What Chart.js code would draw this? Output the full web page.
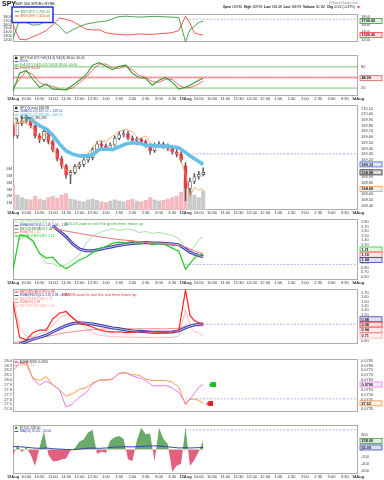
<!DOCTYPE html>
<html lang="en">
<head>
<meta charset="UTF-8">
<meta name="viewport" content="width=device-width, initial-scale=1.0">
<title>SPY intraday breadth</title>
<script src="https://cdn.jsdelivr.net/npm/chart.js"></script>
<style>
  body { margin: 0; background: #fff; }
  #wrap { position: relative; width: 384px; height: 480px; overflow: hidden; background: #fff; }
  #wrap canvas { position: absolute; left: 0; }
</style>
</head>
<body>
<div id="wrap">
  <canvas id="p1" width="384" height="40" style="top:9px"></canvas>
  <canvas id="p2" width="384" height="53" style="top:50px"></canvas>
  <canvas id="p3" width="384" height="117" style="top:100px"></canvas>
  <canvas id="p4" width="384" height="73" style="top:214px"></canvas>
  <canvas id="p5" width="384" height="67" style="top:284px"></canvas>
  <canvas id="p6" width="384" height="65" style="top:354px"></canvas>
  <canvas id="p7" width="384" height="61" style="top:420px"></canvas>
  <canvas id="hdr" width="384" height="24" style="top:0px"></canvas>
</div>

<script>
// minutes after the 9:30 open of 12 Aug; 13 Aug opens at 390
const xTickTimes = [0,30,60,90,120,150,180,210,240,270,300,330,360,390,420,450,480,510,540,570,600,630,660,690,720,750,780];
const xTickLabels = ['12Aug','10:00','10:30','11:00','11:30','12:00','12:30','1:00','1:30','2:00','2:30','3:00','3:30','13Aug','10:00','10:30','11:00','11:30','12:00','12:30','1:00','1:30','2:00','2:30','3:00','3:30','14Aug'];
const lineTimes = [0,15,30,45,60,75,90,105,120,135,150,165,180,195,210,225,240,255,270,285,300,315,330,345,360,375,390,400,410,420,430];
const barTimes = [0,10,20,30,40,50,60,70,80,90,100,110,120,130,140,150,160,170,180,190,200,210,220,230,240,250,260,270,280,290,300,310,320,330,340,350,360,370,380,390,400,410,420,430];
const fullSpan = [0, 780];
const day2Span = [390, 780];

// panel 1 - up / down volume
const nyUpVol = [1225,1740,1660,1590,1600,1720,1690,1560,1360,1460,1550,1615,1650,1680,1700,1755,1820,1830,1820,1805,1815,1825,1825,1815,1805,1790,1140,1460,1560,1660,1700];
const nyDnVol = [1600,1205,1190,1270,1350,1440,1600,1780,1745,1690,1585,1480,1455,1465,1380,1350,1337,1320,1325,1350,1340,1335,1355,1365,1385,1440,1830,1640,1380,1340,1320];
const p1Prior = 1749;
const p1LeftTicks = [1200,1300,1400,1500,1600,1700,1800];
const p1RightTicks = [1200,1400,1600,1800];

// panel 2 - stochastics
const stochK = [12,62,70,45,22,32,17,16,15,28,42,57,85,92,82,72,82,85,62,50,47,28,42,50,37,17,22,28,35,42,48];
const stochD = [20,45,68,58,35,28,25,17,16,20,35,50,72,88,88,77,76,82,72,56,50,38,36,45,45,28,20,22,26,32,40];
const stochUpper = 80, stochMid = 50, stochLower = 20;
const stochTicks = [20, 80];

// panel 3 - SPY 10 min candles, volume, overlays
const opens = [169.80,169.62,169.84,169.88,169.90,169.80,169.62,169.56,169.70,169.52,169.38,169.22,169.10,168.93,168.98,169.08,169.12,169.20,169.24,169.38,169.48,169.44,169.40,169.46,169.58,169.64,169.66,169.58,169.54,169.56,169.52,169.46,169.36,169.46,169.48,169.44,169.40,169.34,169.30,169.10,168.70,168.82,168.90,168.94];
const highs = [169.84,169.92,169.97,169.98,169.95,169.82,169.66,169.78,169.74,169.55,169.40,169.26,169.12,169.02,169.12,169.16,169.24,169.30,169.42,169.52,169.53,169.48,169.50,169.62,169.70,169.72,169.70,169.62,169.60,169.58,169.55,169.48,169.50,169.52,169.51,169.48,169.44,169.38,169.34,169.15,168.88,168.96,169.00,169.06];
const lows = [169.58,169.58,169.80,169.85,169.76,169.58,169.50,169.52,169.48,169.34,169.18,169.05,168.88,168.78,168.95,169.04,169.08,169.16,169.20,169.35,169.40,169.36,169.38,169.44,169.55,169.60,169.55,169.50,169.46,169.47,169.42,169.30,169.33,169.42,169.40,169.36,169.30,169.25,169.16,168.48,168.60,168.78,168.86,168.92];
const closes = [169.62,169.84,169.88,169.90,169.80,169.62,169.56,169.70,169.52,169.38,169.22,169.10,168.93,168.98,169.08,169.12,169.20,169.24,169.38,169.48,169.44,169.40,169.46,169.58,169.64,169.66,169.58,169.54,169.56,169.52,169.46,169.36,169.46,169.48,169.44,169.40,169.34,169.30,169.20,168.70,168.82,168.90,168.94,168.98];
const volumes = [3.6,2.2,1.8,1.6,1.5,2.0,1.6,1.4,1.8,2.0,1.7,2.2,2.4,1.6,1.5,1.3,1.2,1.5,1.6,1.4,1.2,1.1,1.3,1.5,1.3,1.2,1.4,1.6,1.3,1.2,1.4,1.8,1.5,1.3,1.4,1.6,1.8,2.0,2.6,4.4,3.0,2.2,1.8,2.8];
const priceSma = [null,null,169.95,169.88,169.80,169.74,169.63,169.48,169.355,169.30,169.27,169.27,169.29,169.38,169.39,169.38,169.43,169.48,169.50,169.49,169.46,169.45,169.44,169.44,169.43,169.41,169.33,169.27,169.22,169.17,169.12];
const vixOverlay = [169.805,169.855,169.84,169.755,169.555,169.69,169.39,169.205,169.005,169.02,169.14,169.255,169.42,169.54,169.52,169.62,169.69,169.74,169.69,169.57,169.62,169.455,169.47,169.405,169.355,169.29,168.955,168.555,168.72,168.67,168.69];
const p3Prior = 169.305;
const priceTicks = [168.4,168.5,168.6,168.7,168.8,168.9,169.0,169.1,169.2,169.3,169.4,169.5,169.6,169.7,169.8,169.9,170.0,170.1];
const volTicks = [1,2,3,4,5,6];

// panel 4 - bull ratios
const upDnRatio = [1.61,1.41,1.49,1.33,1.13,0.89,0.89,0.83,0.87,0.97,1.09,1.33,1.49,1.57,1.61,1.65,1.61,1.65,1.63,1.57,1.59,1.55,1.57,1.53,1.51,1.43,1.23,1.13,1.27,1.41,1.47];
const advDecRatio = [0.75,1.51,1.49,1.39,1.11,1.01,1.03,0.87,0.78,0.87,0.97,1.03,1.13,1.22,1.26,1.33,1.36,1.34,1.39,1.31,1.36,1.30,1.33,1.30,1.23,1.16,0.77,0.89,1.01,1.08,1.11];
const bullEmaBand = [null,null,null,null,null,null,1.71,1.60,1.48,1.32,1.21,1.17,1.17,1.20,1.23,1.26,1.29,1.31,1.33,1.34,1.35,1.34,1.34,1.33,1.32,1.30,1.21,1.14,1.10,1.07,1.04];
const bullEma50 = [null,null,null,null,null,null,1.67,1.635,1.60,1.575,1.548,1.523,1.50,1.477,1.455,1.433,1.415,1.40,1.385,1.37,1.355,1.343,1.33,1.318,1.305,1.283,1.25,1.21,1.17,1.135,1.10];
const p4Prior = 0.874;
const ratio4Ticks = [0.6,0.7,0.8,0.9,1.0,1.1,1.2,1.3,1.4,1.5,1.6,1.7,1.8];

// panel 5 - bear ratios
const dnUpRatio = [1.48,0.67,0.61,0.78,0.84,0.84,1.10,1.23,1.27,1.12,1.00,0.96,0.91,0.84,0.81,0.79,0.80,0.78,0.79,0.80,0.81,0.80,0.79,0.79,0.80,0.84,1.77,1.18,1.06,1.01,0.98];
const decAdvRatio = [1.60,0.90,0.70,0.68,0.76,0.80,0.95,1.12,1.20,1.15,1.00,0.88,0.78,0.72,0.70,0.69,0.68,0.68,0.675,0.67,0.67,0.665,0.66,0.665,0.67,0.70,1.30,0.95,0.80,0.78,0.71];
const bearEma50 = [0.55,0.57,0.60,0.63,0.66,0.69,0.72,0.75,0.78,0.80,0.82,0.84,0.85,0.86,0.865,0.87,0.87,0.87,0.87,0.87,0.87,0.87,0.87,0.87,0.875,0.88,0.93,0.93,0.935,0.94,0.94];
const bearEmaBand = [null,0.517,0.57,0.63,0.67,0.72,0.80,0.875,0.94,0.99,1.01,1.00,0.98,0.95,0.92,0.89,0.87,0.84,0.82,0.81,0.80,0.79,0.79,0.79,0.795,0.82,0.89,0.93,0.96,0.975,0.98];
const p5Prior = 0.975;
const ratio5Ticks = [0.6,0.7,0.8,0.9,1.0,1.1,1.2,1.3,1.4,1.5,1.6,1.7];

// panel 6 - $ONE:$VIX and VIX
const oneOverVix = [0.07746,0.07825,0.07838,0.07663,0.07596,0.07638,0.07600,0.07550,0.07371,0.07404,0.07475,0.07517,0.07608,0.07650,0.07652,0.07660,0.07721,0.07725,0.07692,0.07673,0.07646,0.07592,0.07590,0.07594,0.07567,0.07521,0.07413,0.07454,0.07513,0.07575,0.07604];
const vixClose = [28.375,28.367,28.325,28.04,27.99,28.075,27.90,27.80,27.67,27.72,27.81,27.84,27.94,28.00,27.995,28.02,28.14,28.15,28.11,28.10,28.02,27.99,27.99,27.99,27.96,27.85,27.49,27.60,27.61,27.575,27.52];
const alertUpTimes = [450], alertUpValues = [27.90];
const alertDownTimes = [445], alertDownValues = [27.51];
const p6Prior = 27.613;
const vixTicks = [27.4,27.5,27.6,27.7,27.8,27.9,28.0,28.1,28.2,28.3,28.4];
const oneVixTicks = [0.0735,0.0740,0.0745,0.0750,0.0755,0.0760,0.0765,0.0770,0.0775,0.0780,0.0785];

// panel 7 - $TICK
const tickValues = [-160,120,-80,70,-150,-460,60,500,-150,-330,-320,-280,-250,-30,40,215,280,480,540,-130,-60,-100,250,340,370,300,-270,-320,250,600,420,440,-330,600,300,150,-620,-450,-400,620,-450,-300,-60,238];
const tickMa = [80,75,60,40,30,40,20,10,0,-10,10,30,40,30,40,60,70,75,70,80,90,100,95,80,60,40,50,40,45,50,55];
const p7Prior = 542;
const tickTicks = [-600,-400,-200,0,200,400];

const FONT = '"Liberation Sans", Arial, sans-serif';
Chart.defaults.font.family = FONT;
Chart.defaults.font.size = 4;
Chart.defaults.color = '#444';
Chart.defaults.animation = false;
Chart.defaults.events = [];
Chart.defaults.plugins.legend.display = false;
Chart.defaults.plugins.tooltip.enabled = false;
Chart.defaults.elements.point.radius = 0;
Chart.defaults.elements.line.tension = 0;

const pts = (times, vals) => times.map((t, i) => ({ x: t, y: vals[i] }));
const flat = (span, v) => span.map(t => ({ x: t, y: v }));

function line(times, vals, color, width, more) {
    return Object.assign({ type: 'line', data: pts(times, vals), borderColor: color, borderWidth: width, fill: false, yAxisID: 'y' }, more || {});
}
function level(span, v, color, width, dash, more) {
    return Object.assign({ type: 'line', data: flat(span, v), borderColor: color, borderWidth: width, borderDash: dash, fill: false, yAxisID: 'y', order: 90 }, more || {});
}

function xScale(show) {
    return {
        type: 'linear', min: 0, max: 780, offset: false, display: show,
        grid: { display: false, drawTicks: false }, border: { display: false },
        afterBuildTicks: s => { s.ticks = xTickTimes.map(v => ({ value: v })); },
        afterFit: s => { s.height = 7; },
        ticks: {
            autoSkip: false, maxRotation: 0, minRotation: 0, padding: 0.5, color: '#333',
            callback: (v, i) => xTickLabels[i],
            font: ctx => ({ size: 4, weight: /Aug/.test(xTickLabels[ctx.index]) ? 'bold' : 'normal' })
        }
    };
}
function yScale(pos, min, max, tickList, fmt) {
    return {
        type: 'linear', position: pos, min: min, max: max,
        grid: { display: false, drawTicks: false }, border: { display: false },
        afterBuildTicks: s => { s.ticks = tickList.map(v => ({ value: v })); },
        afterFit: s => { s.width = pos === 'right' ? 26 : 13; },
        ticks: { autoSkip: false, padding: pos === 'right' ? 3 : 1, callback: fmt, font: { size: 4 }, color: '#444' }
    };
}

const framePlugin = {
    id: 'frame',
    beforeDatasetsDraw(chart) {
        const { ctx, chartArea: a } = chart;
        ctx.save();
        ctx.strokeStyle = '#ababab';
        ctx.lineWidth = 1;
        ctx.strokeRect(Math.round(a.left) + 0.5, Math.round(a.top) + 0.5, Math.round(a.width) - 1, Math.round(a.height) - 1);
        ctx.restore();
    }
};

const legendPlugin = {
    id: 'panelLegend',
    afterDatasetsDraw(chart, args, o) {
        const { ctx, chartArea: a } = chart;
        ctx.save();
        ctx.textBaseline = 'middle';
        (o.lines || []).forEach((ln, i) => {
            const x = a.left + 2, y = a.top + 2.6 + i * 3.5;
            ctx.font = '3.3px ' + FONT;
            if (ln.box) {
                ctx.fillStyle = ln.color;
                ctx.fillRect(x, y - 1.2, 2.4, 2.4);
            } else {
                ctx.strokeStyle = ln.color;
                ctx.lineWidth = 0.9;
                ctx.beginPath(); ctx.moveTo(x - 0.5, y); ctx.lineTo(x + 3.5, y); ctx.stroke();
            }
            ctx.fillStyle = ln.textColor || ln.color;
            ctx.fillText(ln.text, x + 5, y);
        });
        if (o.note) {
            ctx.font = '4px ' + FONT;
            ctx.fillStyle = o.note.color;
            ctx.fillText(o.note.text, a.left + o.note.dx, a.top + o.note.dy);
        }
        ctx.restore();
    }
};

const tagPlugin = {
    id: 'tags',
    afterDraw(chart) {
        const { ctx, chartArea: a } = chart;
        const tags = [];
        chart.data.datasets.forEach(ds => {
            if (ds.tagDigits === undefined) return;
            const last = ds.data.slice().reverse().find(p => p.y !== null);
            const v = Array.isArray(last.y) ? last.y[1] : last.y;
            const y = chart.scales[ds.yAxisID].getPixelForValue(v);
            tags.push({ y: y, text: v.toFixed(ds.tagDigits), color: ds.tagColor || ds.borderColor });
        });
        tags.sort((p, q) => p.y - q.y);
        const h = 5.3;
        for (let n = 0; n < 40; n++) {
            for (let k = 0; k < tags.length - 1; k++) {
                const d = h - (tags[k + 1].y - tags[k].y);
                if (d > 0) { tags[k].y -= d / 2; tags[k + 1].y += d / 2; }
            }
        }
        ctx.save();
        ctx.font = 'bold 3.8px ' + FONT;
        ctx.textBaseline = 'middle';
        tags.forEach(t => {
            const x = a.right + 2, w = 22;
            ctx.fillStyle = '#fff';
            ctx.fillRect(x, t.y - 2.5, w, 5);
            ctx.globalAlpha = 0.16;
            ctx.fillStyle = t.color;
            ctx.fillRect(x, t.y - 2.5, w, 5);
            ctx.globalAlpha = 1;
            ctx.strokeStyle = t.color;
            ctx.lineWidth = 0.8;
            ctx.strokeRect(x, t.y - 2.5, w, 5);
            ctx.fillStyle = '#111';
            ctx.fillText(t.text, x + 1.5, t.y + 0.2);
        });
        ctx.restore();
    }
};

function panel(id, datasets, scales, legend, padLeft) {
    return new Chart(document.getElementById(id), {
        type: 'line',
        data: { datasets: datasets },
        options: {
            responsive: false, maintainAspectRatio: false, devicePixelRatio: 1,
            layout: { padding: { left: padLeft || 0, right: 0, top: 0, bottom: 0 } },
            scales: scales,
            plugins: { panelLegend: legend }
        },
        plugins: [framePlugin, legendPlugin, tagPlugin]
    });
}

function arrowImg(color) {
    const c = document.createElement('canvas');
    c.width = 7; c.height = 5;
    const g = c.getContext('2d');
    g.fillStyle = color;
    g.beginPath();
    g.moveTo(0, 2.5); g.lineTo(2.5, 0); g.lineTo(7, 0); g.lineTo(7, 5); g.lineTo(2.5, 5);
    g.closePath(); g.fill();
    return c;
}

const dashBlue = '#8e8ee2';

// panel 1
panel('p1', [
    line(lineTimes, nyUpVol, '#3f9a3f', 0.9, { tagDigits: 2, order: 5 }),
    line(lineTimes, nyDnVol, '#ef4444', 0.9, { tagDigits: 2, order: 6 }),
    level(day2Span, p1Prior, dashBlue, 0.7, [2, 1.5])
], {
    x: xScale(false),
    yl: yScale('left', 1130, 1880, p1LeftTicks, v => v),
    y: yScale('right', 1130, 1880, p1RightTicks, v => v)
}, {});

// panel 2
panel('p2', [
    line(lineTimes, stochK, '#2f9f2f', 1.1, { tagDigits: 2, tagColor: '#d06060', order: 5 }),
    line(lineTimes, stochD, '#e34848', 0.8, { order: 6 }),
    level(fullSpan, stochUpper, '#5cb85c', 0.8, []),
    level(fullSpan, stochLower, '#5cb85c', 0.8, []),
    level(fullSpan, stochMid, 'rgba(240,90,90,0.35)', 2.6, []),
    level(fullSpan, stochMid, '#e03030', 0.6, [1.5, 1])
], {
    x: xScale(true),
    y: yScale('right', -2.5, 112.5, stochTicks, v => v.toFixed(0))
}, {
    lines: [
        { box: true, color: '#222', text: 'SPY Full STO %K(14,3) %D(3) 48.00, 40.00' },
        { color: '#3344cc', text: '80.00' },
        { color: '#2f9f2f', text: 'Full STO %K(14,3) %D(3) 48.00, 40.00' },
        { color: '#e34848', text: 'Fast(3) 50.00' }
    ]
}, 13);

// panel 3
const downBar = closes.map((c, i) => c < opens[i]);
panel('p3', [
    { type: 'bar', data: pts(barTimes, volumes), yAxisID: 'yv', backgroundColor: downBar.map(d => d ? '#f3b9be' : '#c9c9c9'), barThickness: 3.4, grouped: false, order: 50 },
    { type: 'bar', data: barTimes.map((t, i) => ({ x: t, y: [lows[i], highs[i]] })), yAxisID: 'y', backgroundColor: '#555', barThickness: 0.8, grouped: false, order: 40 },
    { type: 'bar', data: barTimes.map((t, i) => ({ x: t, y: [opens[i], closes[i]] })), yAxisID: 'y',
      backgroundColor: downBar.map(d => d ? '#e6374f' : '#ffffff'), borderColor: downBar.map(d => d ? '#e6374f' : '#444'),
      borderWidth: 0.7, borderSkipped: false, barThickness: 3, grouped: false, order: 30, tagDigits: 2, tagColor: '#222' },
    line(lineTimes, vixOverlay, '#f39a52', 0.8, { tagDigits: 2, order: 20 }),
    line(lineTimes, priceSma, '#66c0e6', 3.6, { tagDigits: 2, tagColor: '#4060d0', order: 10 }),
    level(day2Span, p3Prior, dashBlue, 0.7, [2, 1.5])
], {
    x: xScale(true),
    yv: yScale('left', 0, 15.3, volTicks, v => v + 'M'),
    y: yScale('right', 168.32, 170.155, priceTicks, v => v.toFixed(2))
}, {
    lines: [
        { box: true, color: '#222', text: 'SPY (5 min) 168.98' },
        { color: '#3b4fc4', text: 'SMA(20,20) 169.12 -- 169.12' },
        { color: '#45b0e0', text: 'SMA(20,20) 169.09 -- 169.15' },
        { box: true, color: '#999', textColor: '#333', text: 'Volume 1,285,283' },
        { color: '#f39a52', text: 'VIX 27.33' }
    ]
});

// panel 4
panel('p4', [
    line(lineTimes, upDnRatio, '#8ee08e', 0.8, { order: 8 }),
    line(lineTimes, bullEmaBand, '#3a3aa8', 3, { tagDigits: 2, order: 7 }),
    line(lineTimes, bullEmaBand, '#d4d4f6', 0.9, { order: 6 }),
    line(lineTimes, advDecRatio, '#2fc82f', 1.3, { tagDigits: 2, order: 5 }),
    line(lineTimes, bullEma50, '#f07272', 1, { tagDigits: 2, order: 4 }),
    level(day2Span, p4Prior, dashBlue, 0.7, [2, 1.5])
], {
    x: xScale(true),
    y: yScale('right', 0.534, 1.854, ratio4Ticks, v => v.toFixed(2))
}, {
    lines: [
        { color: '#8ee08e', text: '$NYUPV:$NYDNV 1.47' },
        { color: '#3a3aa8', text: 'EMA(HNDS)(1.0,1.8) 1.04 - 1.04' },
        { color: '#2e8b2e', text: '$NYUD:$NYADV 1.08' },
        { color: '#f07272', text: 'EMA(50) 1.10' },
        { color: '#2fc82f', text: '$NYADV:$NYDEC 1.11' }
    ],
    note: { text: 'BULLS want to see the green lines move up', color: '#35aa35', dx: 52, dy: 4 }
}, 13);

// panel 5
panel('p5', [
    line(lineTimes, decAdvRatio, '#ffaaaa', 0.8, { tagDigits: 2, order: 8 }),
    line(lineTimes, bearEma50, '#ff7070', 0.8, { tagDigits: 2, order: 7 }),
    line(lineTimes, bearEmaBand, '#3a3aa8', 3, { tagDigits: 2, order: 6 }),
    line(lineTimes, bearEmaBand, '#d4d4f6', 0.9, { order: 5 }),
    line(lineTimes, dnUpRatio, '#ff2020', 1.2, { tagDigits: 2, order: 4 }),
    level(day2Span, p5Prior, dashBlue, 0.7, [2, 1.5])
], {
    x: xScale(false),
    y: yScale('right', 0.517, 1.781, ratio5Ticks, v => v.toFixed(2))
}, {
    lines: [
        { color: '#ff2020', text: '$NYDNV:$NYUPV 0.98' },
        { color: '#3a3aa8', text: 'EMA(HNDS)(1.0,1.8) 0.98 - 0.98' },
        { color: '#ff9090', text: '$NYDN:$NYDEC 0.71' },
        { color: '#ff6a6a', text: 'EMA(50) 0.94' },
        { color: '#ffaaaa', text: '$NYDEC:$NYADV 1.00' }
    ],
    note: { text: 'BEARS want to see the red lines move up', color: '#ee3333', dx: 49, dy: 5 }
}, 13);

// panel 6
panel('p6', [
    line(lineTimes, oneOverVix, '#ee78ee', 1, { tagDigits: 4, order: 6 }),
    line(lineTimes, vixClose, '#f39a52', 1, { yAxisID: 'yl', tagDigits: 2, order: 5 }),
    { type: 'line', data: pts(alertUpTimes, alertUpValues), yAxisID: 'yl', showLine: false, pointStyle: arrowImg('#2dbb2d'), pointRadius: 3, order: 1 },
    { type: 'line', data: pts(alertDownTimes, alertDownValues), yAxisID: 'yl', showLine: false, pointStyle: arrowImg('#e02020'), pointRadius: 3, order: 1 },
    level(day2Span, p6Prior, dashBlue, 0.7, [2, 1.5], { yAxisID: 'yl' })
], {
    x: xScale(false),
    yl: yScale('left', 27.342, 28.425, vixTicks, v => v.toFixed(1)),
    y: yScale('right', 0.073208, 0.078625, oneVixTicks, v => v.toFixed(4))
}, {
    lines: [
        { box: true, color: '#ee78ee', textColor: '#333', text: '$ONE:$VIX 0.0760' },
        { color: '#f39a52', text: 'VIX 27.52' }
    ]
});

// panel 7
panel('p7', [
    { type: 'line', data: pts(barTimes, tickValues), yAxisID: 'y', borderWidth: 0, borderColor: '#5aa85a',
      fill: { target: { value: 0 }, above: '#6aaa6a', below: '#e3607d' }, tagDigits: 2, tagColor: '#3a9a3a', order: 20 },
    line(lineTimes, tickMa, '#3445b0', 1, { tagDigits: 2, order: 10 }),
    level(day2Span, p7Prior, dashBlue, 0.7, [2, 1.5])
], {
    x: xScale(true),
    y: yScale('right', -682.5, 667.5, tickTicks, v => v)
}, {
    lines: [
        { box: true, color: '#3a9a3a', textColor: '#333', text: '$TICK 238.00,' },
        { color: '#3445b0', text: 'MA(20) 55.00 - 55.00' }
    ]
}, 13);

// header and the breadth legend box
(function drawHeader() {
    const g = document.getElementById('hdr').getContext('2d');
    g.textBaseline = 'top';
    g.fillStyle = '#111';
    g.font = 'bold 7px ' + FONT;
    g.fillText('SPY', 2, 0.5);
    g.font = '3.8px ' + FONT;
    g.fillText('S&P 500 SPDRs NYSE', 15, 2);
    g.fillStyle = '#666';
    g.font = '3.4px ' + FONT;
    g.fillText('12-Aug-2013 10:06am', 15, 6.2);
    g.textAlign = 'right';
    g.fillStyle = '#888';
    g.fillText('@StockCharts.com', 358, 1.3);

    const parts = [['Open', 1], [' 169.80  ', 0], ['High', 1], [' 169.98  ', 0], ['Low', 1], [' 168.48  ', 0], ['Last', 1], [' 168.98  ', 0], ['Volume', 1], [' 30.1M  ', 0], ['Chg', 1], [' -0.62 (-0.37%) ', 0]];
    g.textAlign = 'left';
    let size = 4, total = 0;
    const measure = () => parts.reduce((s, p) => { g.font = (p[1] ? 'bold ' : '') + size + 'px ' + FONT; return s + g.measureText(p[0]).width; }, 0);
    total = measure();
    if (total > 134) { size = size * 134 / total; total = measure(); }
    let x = 356 - total;
    g.fillStyle = '#111';
    parts.forEach(p => {
        g.font = (p[1] ? 'bold ' : '') + size + 'px ' + FONT;
        g.fillText(p[0], x, 5.2);
        x += g.measureText(p[0]).width;
    });
    g.fillStyle = '#e02020';
    g.beginPath(); g.moveTo(357, 6.2); g.lineTo(360, 6.2); g.lineTo(358.5, 8.4); g.closePath(); g.fill();

    g.fillStyle = '#fff';
    g.fillRect(12, 7, 41, 15.5);
    g.strokeStyle = '#1f2fe6';
    g.lineWidth = 1.5;
    g.strokeRect(12, 7, 41, 15.5);
    g.textBaseline = 'middle';
    g.font = '3.6px ' + FONT;
    [['#3f9a3f', '$NYUPV 1,700.00', 11.5], ['#ef4444', '$NYDNV 1,320.00', 16]].forEach(r => {
        g.strokeStyle = r[0];
        g.lineWidth = 0.9;
        g.beginPath(); g.moveTo(15, r[2]); g.lineTo(19, r[2]); g.stroke();
        g.fillStyle = r[0];
        g.fillText(r[1], 20.5, r[2]);
    });
})();
</script>
</body>
</html>
